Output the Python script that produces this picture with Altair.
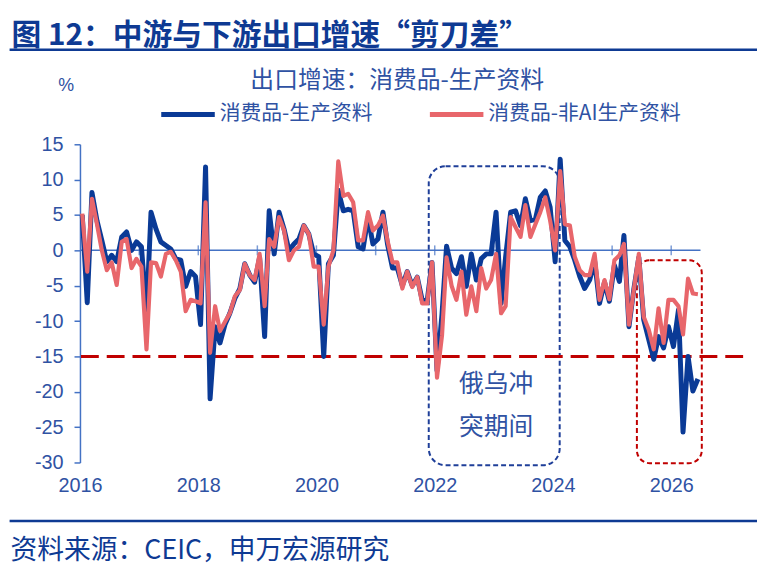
import altair as alt
import pandas as pd

# ---------------- data ----------------
start_year = 2016
n_months = 126
dates = [f"{start_year + m // 12}-{m % 12 + 1:02d}-15" for m in range(n_months)]

consumer_minus_producer = [
    5.0, -7.4, 8.2, 4.2, 1.4, -1.6, -0.7, -1.6, 1.9, 2.6, 0.0, 1.2,
    0.5, -9.0, 5.4, 3.0, 1.2, 0.7, 0.2, -1.2, -1.4, -5.1, -3.0, -3.7,
    -10.5, 11.8, -21.0, -10.8, -13.1, -10.5, -8.9, -6.8, -5.4, -1.9, -3.5, -4.5,
    -1.0, -12.2, 5.6, -0.5, 5.4, 3.0, 0.0, 0.9, 1.6, 3.5, 2.3, -0.5,
    -0.9, -15.0, -1.9, -0.7, 8.5, 5.6, 5.8, 5.6, 0.5, 0.2, 4.7, 0.9,
    1.6, 5.4, 0.9, -2.5, -2.5, -5.0, -3.0, -5.0, -3.8, -7.0, -7.2, -1.7,
    -17.0, -9.0, 0.6, -2.5, -3.3, -0.9, -5.1, -0.5, -4.2, -1.2, -0.5, -0.5,
    5.4, -7.5, -0.9, 5.4, 5.6, 3.5, 7.3, 4.2, 4.4, 7.5, 8.4, 6.1,
    -1.6, 12.9, 1.4, 0.5, -1.4, -3.7, -5.4, -4.2, -1.5, -7.5, -4.5, -7.2,
    -2.1, -4.4, 2.1, -10.8, -5.5, -1.0, -9.8, -12.6, -15.4, -12.2, -13.8, -10.8,
    -13.6, -8.4, -25.7, -15.0, -19.9, -18.2,
]
consumer_minus_nonai_producer = [
    5.2, -3.0, 7.3, 3.7, 0.0, -2.8, -1.7, -4.9, 1.2, 1.6, -2.5, -1.2,
    -2.3, -14.0, -1.7, -1.8, -3.7, -0.5, -0.2, -1.4, -3.0, -8.6, -7.0, -7.2,
    -7.5, 6.8, -14.5, -7.9, -11.4, -10.1, -8.9, -6.5, -5.6, -1.9, -3.5, -4.2,
    -0.5, -7.9, 1.6, 0.5, 4.7, 2.8, -1.4, 0.0, 0.5, 3.5, 2.3, -2.3,
    -2.3, -10.5, -2.3, 0.0, 12.6, 7.7, 8.0, 6.8, 1.4, 1.4, 5.4, 2.8,
    3.5, 4.9, 1.4, -1.7, -1.7, -5.4, -3.0, -5.2, -3.8, -7.5, -7.5, -1.7,
    -18.0, -12.0, -1.0, -5.0, -7.0, -3.0, -9.1, -5.1, -8.6, -2.5, -5.4, -4.2,
    -0.5, -8.9, -7.9, 4.7, 3.3, 1.9, 6.4, 1.9, 3.7, 5.4, 7.5, 4.2,
    0.0, 11.2, 3.7, 3.5, -0.9, -2.8, -3.5, -3.5, -0.5, -7.0, -4.2, -6.9,
    -1.4, -0.7, 0.9, -10.5, -5.6, -0.5, -9.4, -11.2, -14.0, -8.2, -13.1, -7.0,
    -7.0, -7.9, -11.9, -4.0, -6.1, -6.2,
]

series_names = ["消费品-生产资料", "消费品-非AI生产资料"]
label_years = [2016, 2018, 2020, 2022, 2024, 2026]
tick_years = [2017, 2018, 2019, 2020, 2021, 2022, 2023, 2024, 2025, 2026]
y_ticks = [-30, -25, -20, -15, -10, -5, 0, 5, 10, 15]
threshold = [-15]

# annotation boxes (data coordinates)
box_x1 = ["2021-11-25", "2025-06-03"]
box_x2 = ["2024-02-12", "2026-07-09"]
box_top = [11.9, -1.4]
box_bottom = [-30.4, -30.1]
note_lines = ["俄乌冲", "突期间"]
note_date = ["2023-01-15", "2023-01-15"]
note_value = [-18.9, -25.0]

title_text = "图 12：中游与下游出口增速“剪刀差”"
chart_title = "出口增速：消费品-生产资料"
unit_text = "%"
source_text = "资料来源：CEIC，申万宏源研究"

# ---------------- style ----------------
W, H = 626, 321
BLUE = "#0A3A96"
RED = "#E8666B"
DARKRED = "#C00000"
AXIS = "#4472C4"
LABEL = "#2F52A3"
NAVY = "#0E3A93"
CJK = "Noto Sans CJK SC"
LAT = "Liberation Sans"

df = pd.DataFrame({
    "date": dates,
    "blue": consumer_minus_producer,
    "red": consumer_minus_nonai_producer,
})

x_scale = alt.Scale(
    type="utc",
    domain=[alt.DateTime(year=2016, month=1, date=1, utc=True),
            alt.DateTime(year=2026, month=7, date=1, utc=True)],
)
y_scale = alt.Scale(domain=[-30, 15], nice=False, zero=False)

x_axis = alt.Axis(
    values=[alt.DateTime(year=y, month=1, date=1, utc=True) for y in label_years],
    format="%Y", formatType="utc",
    domain=False, ticks=False, grid=False,
    labelFont=LAT, labelFontSize=20, labelColor=LABEL,
    labelPadding=13, labelFlush=False, labelOverlap=False,
)
y_axis = alt.Axis(
    values=y_ticks, grid=False,
    domainColor=AXIS, domainWidth=1.5,
    tickColor=AXIS, tickWidth=1.5, tickSize=6,
    labelFont=LAT, labelFontSize=20, labelColor=LABEL,
    labelPadding=11, labelFlush=False, labelOverlap=False,
    labelExpr="datum.value + ''",
)


def X(field):
    return alt.X(field, scale=x_scale, axis=x_axis, title=None)


def Y(field):
    return alt.Y(field, scale=y_scale, axis=y_axis, title=None)


base = alt.Chart(df)

blue_line = base.mark_line(color=BLUE, strokeWidth=5, strokeJoin="round").encode(
    x=X("date:T"), y=Y("blue:Q"),
)
red_line = base.mark_line(color=RED, strokeWidth=4.2, strokeJoin="round").encode(
    x=X("date:T"), y=Y("red:Q"),
)

zero_line = alt.Chart(pd.DataFrame({"v": [0]})).mark_rule(color=AXIS, strokeWidth=1.5).encode(
    y=Y("v:Q"), x=alt.value(0), x2=alt.value(W),
)
year_ticks = alt.Chart(pd.DataFrame({
    "d": [f"{y}-01-01" for y in tick_years], "v": [0] * len(tick_years)
})).mark_tick(orient="vertical", color=AXIS, thickness=1.5, size=10).encode(
    x=X("d:T"), y=Y("v:Q"),
)
threshold_line = alt.Chart(pd.DataFrame({"v": threshold})).mark_rule(
    color=DARKRED, strokeWidth=3, strokeDash=[18, 8]
).encode(y=Y("v:Q"), x=alt.value(1), x2=alt.value(672))

box_df = pd.DataFrame({"x1": box_x1, "x2": box_x2, "top": box_top, "bottom": box_bottom})
blue_box = alt.Chart(box_df.iloc[[0]]).mark_rect(
    fillOpacity=0, stroke="#1F3F99", strokeWidth=2, strokeDash=[5, 3], cornerRadius=17
).encode(x=X("x1:T"), x2="x2:T", y=Y("top:Q"), y2="bottom:Q")
red_box = alt.Chart(box_df.iloc[[1]]).mark_rect(
    fillOpacity=0, stroke=DARKRED, strokeWidth=2, strokeDash=[5, 3], cornerRadius=13
).encode(x=X("x1:T"), x2="x2:T", y=Y("top:Q"), y2="bottom:Q")

note = alt.Chart(pd.DataFrame({"t": note_lines, "d": note_date, "v": note_value})).mark_text(
    font=CJK, fontSize=25, color=LABEL, align="center", baseline="middle"
).encode(x=X("d:T"), y=Y("v:Q"), text="t:N")


# ---------------- header / legend / footer (pixel positions) ----------------
def txt(t, x, y, size, color, weight="normal", align="left", font=CJK):
    return alt.Chart(pd.DataFrame({"t": [t]})).mark_text(
        font=font, fontSize=size, color=color, fontWeight=weight,
        align=align, baseline="middle"
    ).encode(x=alt.value(x), y=alt.value(y), text="t:N")


def hline(x1, x2, y, color, width):
    return alt.Chart(pd.DataFrame({"k": [0]})).mark_rule(color=color, strokeWidth=width).encode(
        x=alt.value(x1), x2=alt.value(x2), y=alt.value(y))


title = txt(title_text, -69, -109.5, 30, NAVY, weight="bold")
title_rule = hline(-71, 690, -95.3, NAVY, 2.5)
ctitle = txt(chart_title, 320, -64, 24, LABEL, align="center")
unit = txt(unit_text, -14, -59, 18, LABEL, align="center", font=LAT)
leg_blue = hline(82, 136, -30, BLUE, 5)
leg_blue_t = txt(series_names[0], 141, -30, 21, LABEL)
leg_red = hline(353, 407, -30, RED, 5)
leg_red_t = txt(series_names[1], 412, -30, 21, LABEL)
foot_rule = hline(-71, 690, 380, NAVY, 2.5)
source = txt(source_text, -70, 410, 27, NAVY)

chart = alt.layer(
    zero_line, year_ticks, blue_box, red_box, threshold_line,
    blue_line, red_line, note,
    title, title_rule, ctitle, unit, leg_blue, leg_blue_t, leg_red, leg_red_t,
    foot_rule, source,
).properties(
    width=W, height=H,
    autosize=alt.AutoSizeParams(type="none"),
    padding={"left": 72.6, "top": 135, "right": 57, "bottom": 109},
).configure_view(stroke="transparent")

chart.save("out.html", embed_options={"renderer": "svg", "actions": False})
